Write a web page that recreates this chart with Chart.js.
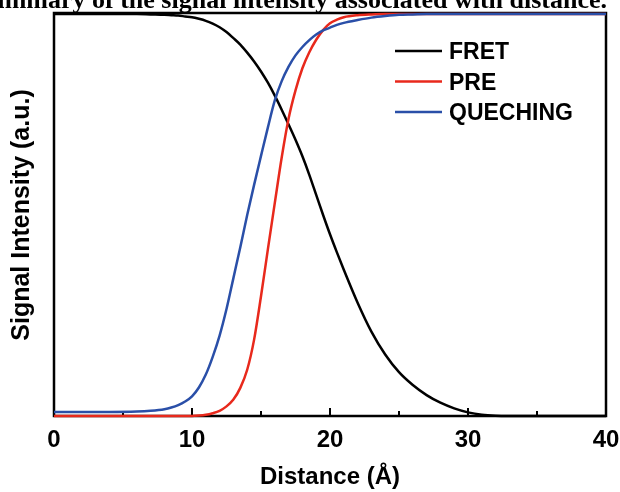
<!DOCTYPE html>
<html><head><meta charset="utf-8">
<script src="https://cdn.jsdelivr.net/npm/chart.js@4"></script>
<style>html,body{margin:0;padding:0;background:#fff;overflow:hidden}</style>
</head><body>
<canvas id="c" width="620" height="492"></canvas>
<script>
const titleText = "Summary of the signal intensity associated with distance.";
const xAxisTitle = "Distance (Å)";
const yAxisTitle = "Signal Intensity (a.u.)";
const seriesNames = ["FRET", "PRE", "QUECHING"];
const seriesColors = ["#000000", "#e8291c", "#2a4fa8"];
const xTickValues = [0, 10, 20, 30, 40];
const minorTickValues = [5, 15, 25, 35];

const distance = [0, 2, 4, 6, 7, 8, 8.5, 9, 9.5, 10, 10.5, 11, 11.5, 12, 12.5, 13, 13.5, 14, 14.5, 15, 15.5, 16, 16.5, 17, 17.5, 18, 18.5, 19, 19.5, 20, 20.5, 21, 22, 23, 24, 25, 26, 27, 28, 29, 30, 31, 32, 33, 34, 36, 38, 40];
const fret = [1, 1, 1, 1, 0.999, 0.998, 0.997, 0.996, 0.994, 0.992, 0.988, 0.983, 0.976, 0.967, 0.955, 0.94, 0.924, 0.904, 0.882, 0.857, 0.829, 0.797, 0.762, 0.725, 0.687, 0.646, 0.6, 0.55, 0.5, 0.452, 0.407, 0.364, 0.282, 0.21, 0.153, 0.109, 0.077, 0.052, 0.033, 0.019, 0.009, 0.003, 0.0005, 0, 0, 0, 0, 0];
const pre = [0, 0, 0, 0, 0, 0, 0, 0, 0, 0, 0.001, 0.003, 0.007, 0.013, 0.024, 0.041, 0.07, 0.115, 0.19, 0.298, 0.415, 0.53, 0.643, 0.74, 0.81, 0.865, 0.905, 0.936, 0.96, 0.977, 0.986, 0.992, 0.997, 0.999, 1, 1, 1, 1, 1, 1, 1, 1, 1, 1, 1, 1, 1, 1];
const queching = [0.01, 0.01, 0.01, 0.011, 0.013, 0.017, 0.021, 0.027, 0.036, 0.049, 0.071, 0.103, 0.147, 0.2, 0.266, 0.343, 0.42, 0.5, 0.575, 0.647, 0.718, 0.785, 0.833, 0.869, 0.897, 0.918, 0.935, 0.949, 0.959, 0.966, 0.973, 0.978, 0.985, 0.991, 0.995, 0.998, 0.999, 1, 1, 1, 1, 1, 1, 1, 1, 1, 1, 1];

const seriesValues = [fret, pre, queching];
const SANS = '"Liberation Sans", Arial, sans-serif';

const framePlugin = {
  id: 'frameTicks',
  beforeDatasetsDraw(chart) {
    const { ctx, chartArea: a, scales: { x } } = chart;
    ctx.save();
    ctx.strokeStyle = '#000';
    ctx.lineWidth = 2;
    const tick = (v, len) => {
      const px = x.getPixelForValue(v);
      ctx.beginPath(); ctx.moveTo(px, a.bottom); ctx.lineTo(px, a.bottom - len); ctx.stroke();
    };
    xTickValues.filter(v => v > x.min && v < x.max).forEach(v => tick(v, 8));
    minorTickValues.forEach(v => tick(v, 5));
    ctx.lineWidth = 2.5;
    ctx.strokeRect(a.left, a.top - 1, a.right - a.left, a.bottom - a.top + 1);
    ctx.restore();
  }
};

const legendPlugin = {
  id: 'insideLegend',
  afterDatasetsDraw(chart) {
    const { ctx, chartArea: a } = chart;
    ctx.save();
    ctx.font = 'bold 23px ' + SANS;
    ctx.textAlign = 'left';
    ctx.textBaseline = 'alphabetic';
    chart.data.datasets.forEach((ds, i) => {
      const y = a.top + 37 + i * 30.5;
      ctx.strokeStyle = ds.borderColor;
      ctx.lineWidth = 2.5;
      ctx.beginPath(); ctx.moveTo(a.right - 211, y); ctx.lineTo(a.right - 164, y); ctx.stroke();
      ctx.fillStyle = '#000';
      ctx.fillText(ds.label, a.right - 157, y + 8);
    });
    ctx.restore();
  }
};

const titlePlugin = {
  id: 'croppedTitle',
  afterDraw(chart) {
    const { ctx } = chart;
    ctx.save();
    ctx.font = 'bold 26px "Liberation Serif", "Times New Roman", serif';
    ctx.fillStyle = '#000';
    ctx.textAlign = 'right';
    ctx.textBaseline = 'alphabetic';
    ctx.fillText(titleText, 607, 8);
    ctx.restore();
  }
};

new Chart(document.getElementById('c'), {
  type: 'line',
  data: {
    datasets: seriesNames.map((name, i) => ({
      label: name,
      data: distance.map((d, k) => ({ x: d, y: seriesValues[i][k] })),
      borderColor: seriesColors[i],
      borderWidth: 2.5,
      pointRadius: 0,
      fill: false,
      cubicInterpolationMode: 'monotone',
      clip: 5,
      order: 3 - i
    }))
  },
  options: {
    responsive: false,
    animation: false,
    layout: { padding: { top: 14, right: 14, left: 0, bottom: 0 } },
    plugins: { legend: { display: false }, tooltip: { enabled: false }, title: { display: false } },
    scales: {
      x: {
        type: 'linear', min: 0, max: 40,
        afterFit(s) { s.height = 76; s.paddingLeft = 0; s.paddingRight = 0; },
        grid: { display: false, drawTicks: false },
        border: { display: false },
        ticks: { stepSize: 10, padding: 10, color: '#000', font: { family: SANS, size: 24, weight: 'bold' } },
        title: { display: true, text: xAxisTitle, color: '#000', padding: { top: 0, bottom: 0 }, font: { family: SANS, size: 24, weight: 'bold' } }
      },
      y: {
        type: 'linear', min: 0, max: 1,
        afterFit(s) { s.width = 54; s.paddingTop = 0; s.paddingBottom = 0; },
        grid: { display: false, drawTicks: false },
        border: { display: false },
        ticks: { display: false },
        title: { display: true, text: yAxisTitle, color: '#000', padding: { top: 7, bottom: 0 }, font: { family: SANS, size: 25, weight: 'bold' } }
      }
    }
  },
  plugins: [framePlugin, legendPlugin, titlePlugin]
});
</script>
</body></html>
